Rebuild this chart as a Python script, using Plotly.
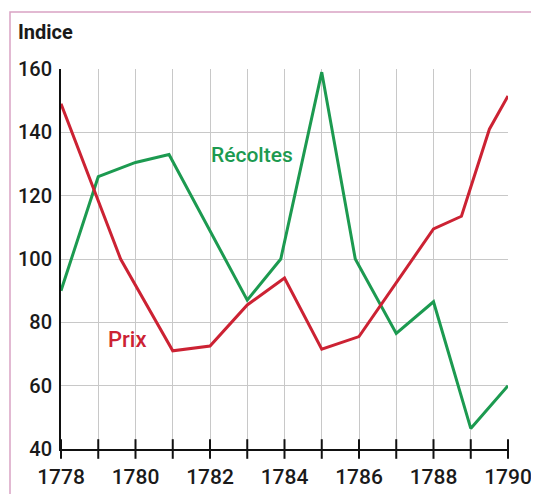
import plotly.graph_objects as go

# ---- data ----
years = list(range(1778, 1791))
year_labels = [str(y) if y % 2 == 0 else "" for y in years]
y_ticks = [40, 60, 80, 100, 120, 140, 160]

prix_x = [1778, 1779.6, 1781, 1782, 1783, 1784, 1785, 1786, 1788, 1788.75, 1789.5, 1790]
prix_y = [149, 100, 71, 72.5, 85.5, 94, 71.5, 75.5, 109.5, 113.5, 141, 151.5]

recoltes_x = [1778, 1779, 1780, 1780.9, 1783, 1783.9, 1785, 1785.9, 1787, 1788, 1789, 1790]
recoltes_y = [90, 126, 130.5, 133, 87, 100, 159, 100, 76.5, 86.5, 46.5, 60]

RED = "#cc2233"
GREEN = "#1c9a50"
FONT = "Roboto"

fig = go.Figure()

fig.add_trace(go.Scatter(x=recoltes_x, y=recoltes_y, mode="lines",
                         line=dict(color=GREEN, width=3), cliponaxis=False,
                         hoverinfo="skip", showlegend=False))
fig.add_trace(go.Scatter(x=prix_x, y=prix_y, mode="lines",
                         line=dict(color=RED, width=3), cliponaxis=False,
                         hoverinfo="skip", showlegend=False))
# crossing tick marks on the x axis
fig.add_trace(go.Scatter(x=years, y=[40] * len(years), mode="markers",
                         marker=dict(symbol="line-ns", size=14,
                                     line=dict(color="#111111", width=2)),
                         cliponaxis=False, hoverinfo="skip", showlegend=False))

OFF = 8  # page body margin
W, H = 539 - OFF, 494 - OFF
L, R, T, B = 61 - OFF, 31, 69 - OFF, 45
pw, ph = W - L - R, H - T - B


def px(xp):
    return (xp - OFF - L) / pw


def py(yp):
    return (H - B - (yp - OFF)) / ph


fig.update_layout(
    width=W, height=H,
    margin=dict(l=L, r=R, t=T, b=B, autoexpand=False),
    paper_bgcolor="white", plot_bgcolor="white",
    font=dict(family=FONT, color="#1a1a1a"),
    xaxis=dict(range=[1778, 1790], tickvals=years, ticktext=year_labels,
               showgrid=True, gridcolor="#c8c8c8", gridwidth=1,
               showline=True, linecolor="#111111", linewidth=2,
               ticks="", zeroline=False, ticklabelstandoff=8, automargin=False,
               tickfont=dict(size=21, weight=500, family=FONT, color="#1a1a1a")),
    yaxis=dict(range=[40, 160], tickvals=y_ticks,
               showgrid=True, gridcolor="#c8c8c8", gridwidth=1,
               showline=True, linecolor="#111111", linewidth=2,
               ticks="", zeroline=False, ticklabelstandoff=3, automargin=False,
               tickfont=dict(size=20, weight=500, family=FONT, color="#1a1a1a")),
    shapes=[
        dict(type="path", xref="paper", yref="paper",
             path=f"M {px(539)} {py(12)} L {px(10)} {py(12)} L {px(10)} {py(494)}",
             line=dict(color="#d9a3c3", width=1.5)),
    ],
    annotations=[
        dict(text="<b>Indice</b>", xref="paper", yref="paper",
             x=px(16), y=py(32), xanchor="left", yanchor="middle",
             showarrow=False, font=dict(size=20, family=FONT, color="#1a1a1a")),
        dict(text="Récoltes", xref="paper", yref="paper",
             x=px(252), y=py(155), xanchor="center", yanchor="middle",
             showarrow=False, font=dict(size=21, weight=500, family=FONT, color=GREEN)),
        dict(text="Prix", xref="paper", yref="paper",
             x=px(127), y=py(339), xanchor="center", yanchor="middle",
             showarrow=False, font=dict(size=22, weight=500, family=FONT, color=RED)),
    ],
)

fig.write_html("out.html")
